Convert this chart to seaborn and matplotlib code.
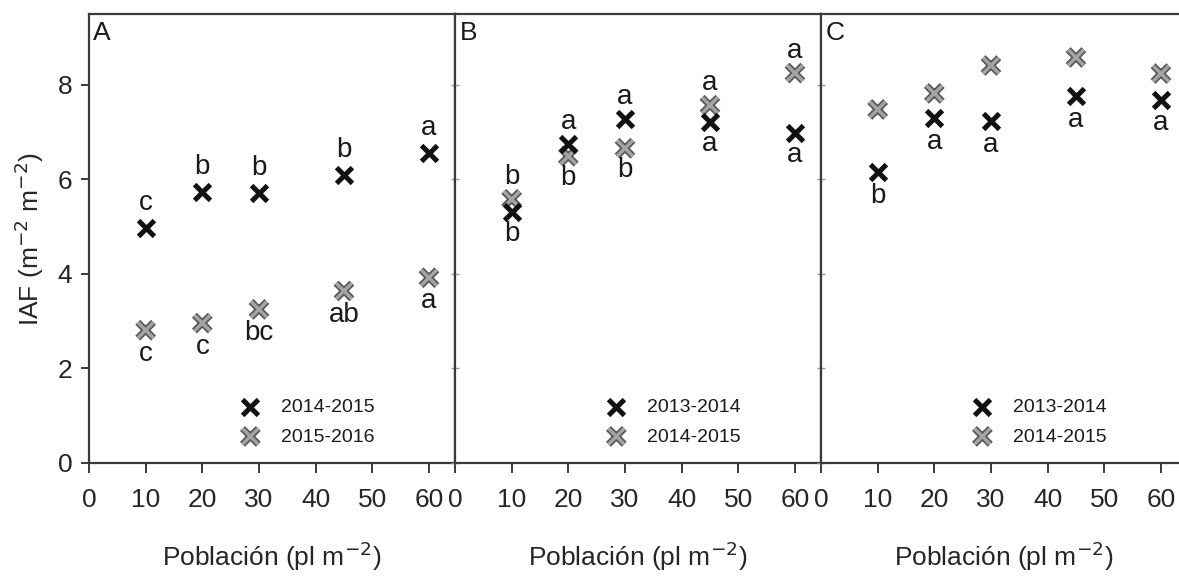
import matplotlib
matplotlib.use("Agg")
import matplotlib.pyplot as plt
import matplotlib.patheffects as pe
import seaborn as sns
import pandas as pd

poblacion = [10, 20, 30, 45, 60]

# Panel A
A_labels = ["2014-2015", "2015-2016"]
A_s1 = [4.97, 5.73, 5.71, 6.09, 6.56]
A_s2 = [2.81, 2.96, 3.25, 3.64, 3.92]
A_let1 = ["c", "b", "b", "b", "a"]
A_let2 = ["c", "c", "bc", "ab", "a"]

# Panel B
B_labels = ["2013-2014", "2014-2015"]
B_s1 = [5.31, 6.74, 7.27, 7.21, 6.98]
B_s2 = [5.58, 6.49, 6.66, 7.57, 8.25]
B_let_low = ["b", "b", "b", "a", "a"]
B_let_top = ["b", "a", "a", "a", "a"]

# Panel C
C_labels = ["2013-2014", "2014-2015"]
C_s1 = [6.15, 7.29, 7.23, 7.76, 7.69]
C_s2 = [7.48, 7.82, 8.41, 8.58, 8.24]
C_let1 = ["b", "a", "a", "a", "a"]

xticks = [0, 10, 20, 30, 40, 50, 60]
yticks = [0, 2, 4, 6, 8]

sns.set_theme(style="white")
plt.rcParams["font.family"] = ["Liberation Sans", "DejaVu Sans"]

fig = plt.figure(figsize=(11.79, 5.78), dpi=100)
W = 366 / 1179
L0 = 89 / 1179
B0 = 1 - 463 / 578
H = (463 - 14) / 578
axes = [fig.add_axes([L0 + i * W, B0, W, H]) for i in range(3)]

spine_c = "#3a3a3a"
black_c = "#111111"
gray_c = "#a4a4a4"
gray_edge = "#5a5a5a"
gray_fx = [pe.withStroke(linewidth=5.0, foreground=gray_edge)]


def draw(ax, labels, s1, s2):
    df = pd.DataFrame({
        "x": poblacion * 2,
        "y": s1 + s2,
        "serie": [labels[0]] * 5 + [labels[1]] * 5,
    })
    d1 = df[df.serie == labels[0]]
    d2 = df[df.serie == labels[1]]
    sns.scatterplot(data=d1, x="x", y="y", ax=ax, marker="x", s=130,
                    color=black_c, linewidth=3.6,
                    label=labels[0], zorder=4)
    sns.scatterplot(data=d2, x="x", y="y", ax=ax, marker="x", s=130,
                    color=gray_c, linewidth=2.4,
                    label=labels[1], zorder=3)
    ax.collections[-1].set_path_effects(gray_fx)


def letter(ax, x, y, t, dy):
    ax.annotate(t, (x, y), xytext=(0, dy), textcoords="offset points",
                ha="center", va="center", fontsize=20, color="#1a1a1a",
                zorder=5)


draw(axes[0], A_labels, A_s1, A_s2)
draw(axes[1], B_labels, B_s1, B_s2)
draw(axes[2], C_labels, C_s1, C_s2)

for x, y1, y2, t1, t2 in zip(poblacion, A_s1, A_s2, A_let1, A_let2):
    letter(axes[0], x, y1, t1, 18)
    letter(axes[0], x, y2, t2, -17)

for x, y1, y2, tb, tt in zip(poblacion, B_s1, B_s2, B_let_low, B_let_top):
    letter(axes[1], x, max(y1, y2), tt, 16)
    letter(axes[1], x, min(y1, y2), tb, -16)

for x, y1, t1 in zip(poblacion, C_s1, C_let1):
    letter(axes[2], x, y1, t1, -17)

panel_names = ["A", "B", "C"]
for i, ax in enumerate(axes):
    ax.set_xlim(0, 64.6)
    ax.set_ylim(0, 9.5)
    ax.set_xticks(xticks)
    ax.set_yticks(yticks)
    for sp in ax.spines.values():
        sp.set_color(spine_c)
        sp.set_linewidth(1.6)
        sp.set_visible(True)
    ax.tick_params(axis="x", direction="out", length=7, width=1.4,
                   color=spine_c, pad=11, labelsize=19, bottom=True)
    if i == 0:
        ax.tick_params(axis="y", direction="out", length=6, width=1.4,
                       color=spine_c, pad=6, labelsize=19, left=True)
        ax.set_ylabel("IAF (m$^{-2}$ m$^{-2}$)", fontsize=19, labelpad=8)
    else:
        ax.tick_params(axis="y", direction="inout", length=6, width=1.0,
                       color="#9a9a9a", labelleft=False, left=True)
        ax.set_ylabel("")
    ax.set_xlabel("Población (pl m$^{-2}$)", fontsize=19, labelpad=20)
    ax.text(0.012, 0.985, panel_names[i], transform=ax.transAxes,
            ha="left", va="top", fontsize=19, color="#1a1a1a")
    leg = ax.legend(loc="lower left", bbox_to_anchor=(0.34, 0.0),
                    frameon=False, fontsize=14, handletextpad=0.6,
                    labelspacing=0.6, markerscale=1.0)
    for t in leg.get_texts():
        t.set_color("#1a1a1a")
    hs = leg.legend_handles
    if len(hs) > 1:
        hs[1].set_path_effects(gray_fx)

fig.savefig("out.png", dpi=100)
